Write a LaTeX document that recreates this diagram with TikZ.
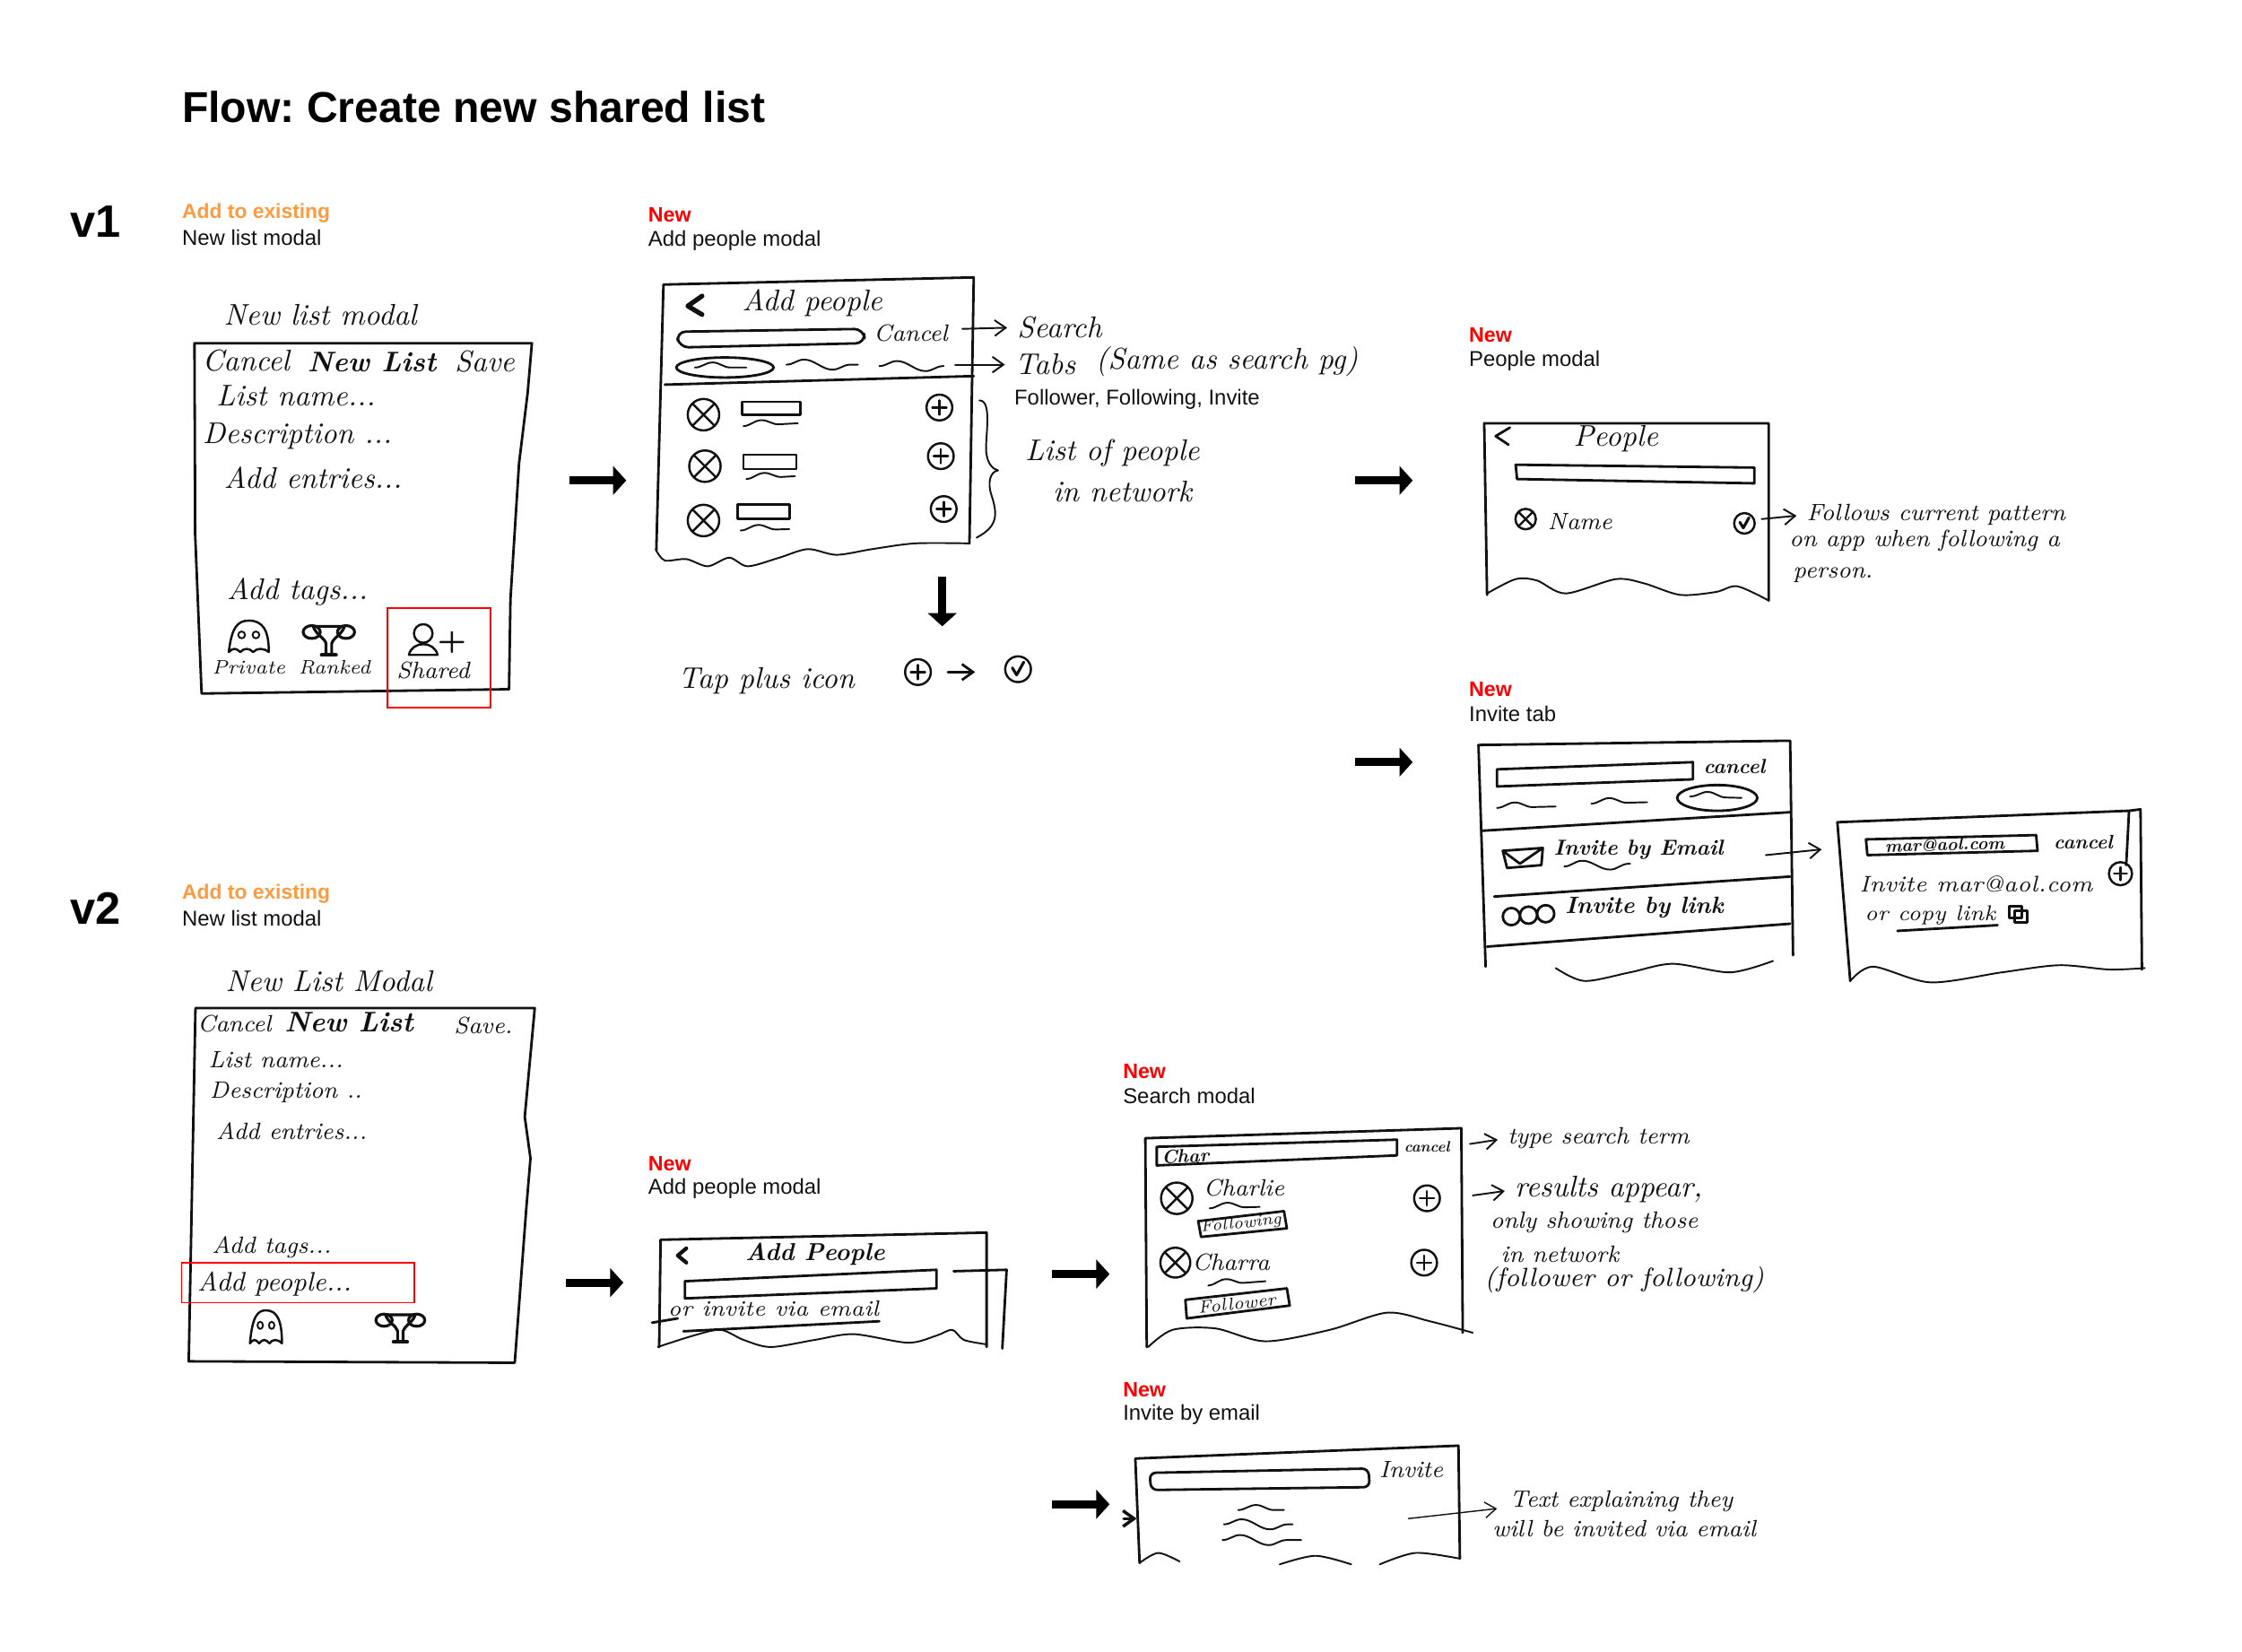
\documentclass[tikz,border=0pt]{standalone}
\usepackage{fontspec}
\setsansfont{Liberation Sans}
\usepackage{xcolor}
\usetikzlibrary{arrows.meta, decorations.pathmorphing}
\definecolor{addtag}{HTML}{FF9A3C}
\definecolor{newtag}{HTML}{FF0000}
\definecolor{inkline}{HTML}{111111}
\begin{document}
\begin{tikzpicture}[
  x=0.015944cm, y=-0.015944cm,
  ink/.style={draw=inkline, line width=0.55pt, line join=round, line cap=round},
  inkb/.style={ink, line width=0.8pt},
  scrib/.style={ink, decorate, decoration={snake, amplitude=1.6, segment length=18}},
  hand/.style={font=\rmfamily\itshape\fontsize{9.5}{10}\selectfont, text=inkline, inner sep=0pt},
  handb/.style={hand, font=\rmfamily\itshape\bfseries\fontsize{9}{10}\selectfont},
  handsm/.style={hand, font=\rmfamily\itshape\fontsize{7.5}{8}\selectfont},
  handxs/.style={hand, font=\rmfamily\itshape\fontsize{5.6}{6}\selectfont},
  headline/.style={font=\sffamily\bfseries\fontsize{13.7}{16}\selectfont, anchor=west, inner sep=0pt},
  version/.style={font=\sffamily\bfseries\fontsize{14.4}{16}\selectfont, anchor=west, inner sep=0pt},
  tagadd/.style={font=\sffamily\bfseries\fontsize{6.5}{8}\selectfont, text=addtag, anchor=west, inner sep=0pt, yshift=-0.5pt},
  tagnew/.style={font=\sffamily\bfseries\fontsize{6.6}{8}\selectfont, text=newtag, anchor=west, inner sep=0pt, yshift=-0.5pt},
  screen/.style={font=\sffamily\fontsize{6.8}{8}\selectfont, text=inkline, anchor=west, inner sep=0pt, yshift=-0.5pt},
  flowarr/.style={-{Triangle[length=4.2pt, width=9pt]}, line width=2.6pt, black},
  notearr/.style={-{Straight Barb[length=3.5pt, width=5pt]}, ink},
  notegap/.style={notearr, shorten >=3pt},
  redbox/.style={draw=newtag, line width=0.55pt},
  pics/xface/.style={code={
    \draw[ink, line width=0.7pt] (0,0) circle[radius=11];
    \draw[ink, line width=0.7pt] (-7.5,-7.5) -- (7.5,7.5) (7.5,-7.5) -- (-7.5,7.5);}},
  pics/plusdot/.style={code={
    \draw[ink, line width=0.7pt] (0,0) circle[radius=9];
    \draw[ink, line width=0.7pt] (-5,0) -- (5,0) (0,-5) -- (0,5);}},
  pics/checkdot/.style={code={
    \draw[ink, line width=0.7pt] (0,0) circle[radius=9];
    \draw[ink, line width=0.9pt] (-4,-1) -- (-1,4) -- (4,-5);}},
  pics/ghost/.style={code={
    \draw[ink, line width=0.7pt] (-14,9) .. controls (-12,-8) and (-8,-13) .. (0,-13)
      .. controls (10,-13) and (14,-6) .. (14,9) .. controls (10,6) and (6,6) .. (3,9)
      .. controls (0,6) and (-3,6) .. (-6,9) .. controls (-9,6) and (-11,6) .. (-14,9);
    \draw[ink] (-5,-3) circle[radius=2.4] (5,-3) circle[radius=2.4];}},
  pics/trophy/.style={code={
    \draw[ink, line width=0.9pt] (-11,-9) -- (11,-9) .. controls (9,-3) and (3,-1) .. (2,3) -- (2,11)
      -- (-2,11) -- (-2,3) .. controls (-3,-1) and (-9,-3) .. (-11,-9);
    \draw[ink, line width=0.9pt] (-12,-5) ellipse[x radius=6, y radius=4.5]
      (12,-5) ellipse[x radius=6, y radius=4.5];
    \draw[ink, line width=1.2pt] (-5,11) -- (5,11);}}
]
  \useasboundingbox (0,0) rectangle (1568,1154.7);

  \node[headline] (title) at (127,75) {\frenchspacing Flow: Create new shared list};
  \node[version] (vone) at (49,155) {v1};
  \node[version] (vtwo) at (49,635) {v2};

  \node[tagadd] (tagA) at (127,148) {Add to existing};
  \node[screen] (capA) at (127,165) {New list modal};
  \node[tagnew] (tagB) at (453,149) {New};
  \node[screen] (capB) at (453,167) {Add people modal};
  \node[tagnew] (tagC) at (1027,233) {New};
  \node[screen] (capC) at (1027,251) {People modal};
  \node[tagnew] (tagD) at (1027,481) {New};
  \node[screen] (capD) at (1027,498) {Invite tab};
  \node[tagadd] (tagE) at (127,624) {Add to existing};
  \node[screen] (capE) at (127,641) {New list modal};
  \node[tagnew] (tagF) at (453,813) {New};
  \node[screen] (capF) at (453,830) {Add people modal};
  \node[tagnew] (tagG) at (785,748) {New};
  \node[screen] (capG) at (785,765) {Search modal};
  \node[tagnew] (tagH) at (785,971) {New};
  \node[screen] (capH) at (785,988) {Invite by email};
  \node[screen] (tabnames) at (709,278) {Follower, Following, Invite};

  \coordinate (fa1) at (398,336);  \coordinate (fa2) at (438,336);
  \coordinate (fb1) at (948,336);  \coordinate (fb2) at (988,336);
  \coordinate (fc1) at (948,533);  \coordinate (fc2) at (988,533);
  \coordinate (fd1) at (396,897);  \coordinate (fd2) at (436,897);
  \coordinate (fe1) at (736,891);  \coordinate (fe2) at (776,891);
  \coordinate (ff1) at (736,1052); \coordinate (ff2) at (776,1052);
  \coordinate (fg1) at (659,403);  \coordinate (fg2) at (659,438);
  \draw[flowarr] (fa1) -- (fa2);
  \draw[flowarr] (fb1) -- (fb2);
  \draw[flowarr] (fc1) -- (fc2);
  \draw[flowarr] (fd1) -- (fd2);
  \draw[flowarr] (fe1) -- (fe2);
  \draw[flowarr] (ff1) -- (ff2);
  \draw[flowarr] (fg1) -- (fg2);

  \draw[inkb] (136,240) -- (372,240) -- (369,275) -- (363,324) -- (357,419) -- (356,482) -- (141,485) -- (136.5,374) -- cycle;
  \node[hand] (a0) at (224,220) {New list modal};
  \node[hand] (a1) at (172,252) {Cancel};
  \node[handb] (a2) at (260,253) {New List};
  \node[hand] (a3) at (339,253) {Save};
  \node[hand] (a4) at (207,277) {List name...};
  \node[hand] (a5) at (208,305) {Description ...};
  \node[hand] (a6) at (219,334) {Add entries...};
  \node[hand] (a7) at (208,414) {Add tags...};
  \pic at (174,447) {ghost};
  \pic at (230,447) {trophy};
  \node[handxs, font=\rmfamily\itshape\fontsize{6.2}{7}\selectfont] (a8) at (174,467) {Private};
  \node[handxs, font=\rmfamily\itshape\fontsize{6.2}{7}\selectfont] (a9) at (234,467) {Ranked};
  \draw[ink, line width=0.7pt] (296,443) circle[radius=6.5]
    (286,458) .. controls (288,448) and (304,448) .. (306,458) -- cycle
    (308,449) -- (324,449) (316,442) -- (316,456);
  \node[handsm] (a10) at (303,469) {Shared};
  \draw[redbox] (271,425) rectangle (343,495);

  \draw[inkb] (459,385) -- (464,199) -- (681,194) -- (678,380);
  \draw[ink] plot[smooth] coordinates {(459,385) (465,392) (480,391) (495,396) (510,390) (523,396) (545,390) (565,384) (585,388) (610,384) (640,380) (678,380)};
  \draw[ink, line width=1.5pt] (491,207) -- (481,214) -- (491,220);
  \node[hand] (b0) at (568,212) {Add people};
  \draw[inkb, rounded corners=3] (473,232) -- (604,230) -- (605,240) -- (475,243) -- cycle;
  \node[handsm] (b1) at (637,233) {Cancel};
  \draw[inkb] (507,257) ellipse[x radius=34, y radius=7];
  \draw[scrib] (486,257) -- (522,257);
  \draw[scrib] (550,255) -- (600,255);
  \draw[scrib] (615,256) -- (660,256);
  \draw[inkb] (465,269) -- (681,263);
  \pic at (492,290) {xface};
  \pic at (493,326) {xface};
  \pic at (492,364) {xface};
  \draw[inkb] (519,281) rectangle (560,290);
  \draw[scrib] (520,298) -- (558,296);
  \draw[inkb] (520,318) rectangle (557,328);
  \draw[scrib] (522,335) -- (556,333);
  \draw[inkb] (516,353) rectangle (552,363);
  \draw[scrib] (518,371) -- (552,370);
  \pic at (657,285) {plusdot};
  \pic at (658,319) {plusdot};
  \pic at (660,356) {plusdot};
  \draw[ink] (685,280) .. controls (695,280) and (688,310) .. (690,318)
    .. controls (691,324) and (694,328) .. (698,329) .. controls (692,330) and (691,338) .. (693,345)
    .. controls (698,360) and (698,368) .. (683,376);
  \node[hand] (b2) at (741,229) {Search};
  \coordinate (b2s) at (673,230);
  \draw[notegap] (b2s) -- (b2.west);
  \node[hand] (b3) at (731,255) {Tabs};
  \coordinate (b3s) at (668,255);
  \draw[notegap] (b3s) -- (b3.west);
  \node[hand] (b4) at (858,253) {(Same as search pg)};
  \node[hand] (b5) at (778,317) {List of people};
  \node[hand] (b6) at (785,344) {in network};
  \node[hand] (b7) at (536,476) {Tap plus icon};
  \pic at (642,470) {plusdot};
  \coordinate (b8s) at (663,470);
  \coordinate (b8e) at (682,470);
  \draw[notearr, line width=0.8pt] (b8s) -- (b8e);
  \pic at (712,468) {checkdot};

  \draw[inkb] (1040,416) -- (1038,296) -- (1237,296) -- (1237,420);
  \draw[ink] plot[smooth] coordinates {(1040,415) (1060,405) (1075,406) (1095,415) (1130,405) (1150,408) (1175,416) (1200,414) (1215,410) (1237,420)};
  \draw[inkb] (1056,299) -- (1046,305) -- (1055,311);
  \node[hand] (c0) at (1130,307) {People};
  \draw[inkb] (1060,325) -- (1227,327) -- (1227,338) -- (1061,335) -- cycle;
  \pic[scale=0.65] at (1067,363) {xface};
  \node[handsm] (c1) at (1105,365) {Name};
  \pic[scale=0.8] at (1220,366) {checkdot};
  \node[handsm] (c2) at (1354,360) {Follows current pattern};
  \node[handsm] (c3) at (1346,378) {on app when following a};
  \node[handsm] (c4) at (1282,402) {person.};
  \coordinate (c2s) at (1232,363);
  \draw[notegap] (c2s) -- (c2.west);

  \draw[inkb] (1039,676) -- (1034,521) -- (1252,518) -- (1254,668);
  \draw[inkb] (1047,538) -- (1184,533) -- (1184,545) -- (1047,550) -- cycle;
  \node[handb, font=\rmfamily\itshape\bfseries\fontsize{6.5}{7}\selectfont] (d0) at (1213,536) {cancel};
  \draw[scrib] (1047,565) -- (1088,564);
  \draw[scrib] (1113,562) -- (1152,561);
  \draw[inkb] (1201,558) ellipse[x radius=28, y radius=9];
  \draw[scrib] (1182,557) -- (1218,558);
  \draw[inkb] (1036,581) -- (1252,568);
  \draw[inkb] (1045,627) -- (1252,613);
  \draw[inkb] (1040,662) -- (1252,646);
  \draw[inkb] (1051,595) -- (1079,593) -- (1078,605) -- (1054,607) -- cycle (1051,595) -- (1063,604) -- (1079,593);
  \node[handsm, font=\rmfamily\itshape\bfseries\fontsize{6.9}{8}\selectfont] (d1) at (1146,594) {Invite by Email};
  \draw[scrib] (1094,606) -- (1140,604);
  \draw[inkb] (1057,641) circle[radius=6] (1069,640) circle[radius=6] (1081,639) circle[radius=6];
  \node[handsm, font=\rmfamily\itshape\bfseries\fontsize{7.5}{8}\selectfont] (d2) at (1150,635) {Invite by link};
  \draw[ink] plot[smooth] coordinates {(1088,677) (1108,686) (1140,680) (1170,674) (1210,680) (1240,672)};
  \coordinate (d3s) at (1235,598);
  \coordinate (d3e) at (1274,594);
  \draw[notearr] (d3s) -- (d3e);

  \draw[inkb] (1294,686) -- (1285,575) -- (1489,567) (1489,567) -- (1487,605) (1489,567) -- (1497,566) -- (1498,678);
  \draw[ink] plot[smooth] coordinates {(1294,686) (1310,676) (1350,687) (1400,680) (1440,675) (1475,678) (1500,677)};
  \draw[inkb] (1305,587) -- (1424,584) -- (1425,595) -- (1306,598) -- cycle;
  \node[handxs, rotate=1.5, font=\rmfamily\itshape\bfseries\fontsize{5.6}{7}\selectfont] (e0) at (1360,590.5) {mar@aol.com};
  \node[handb, font=\rmfamily\itshape\bfseries\fontsize{6.2}{7}\selectfont] (e1) at (1457,589) {cancel};
  \node[handsm, font=\rmfamily\itshape\fontsize{7.2}{8}\selectfont] (e2) at (1382,618) {Invite mar@aol.com};
  \pic[scale=0.9] at (1483,611) {plusdot};
  \node[handsm, font=\rmfamily\itshape\fontsize{6.8}{8}\selectfont] (e3) at (1350,640) {or copy link};
  \draw[inkb] (1327,651) -- (1397,647);
  \draw[inkb] (1405,634) rectangle (1414,642) (1409,637) rectangle (1418,645);

  \draw[inkb] (136.7,705) -- (374,705) -- (367,781) -- (371,810) -- (368,846) -- (360,953) -- (132,952) -- cycle;
  \node[hand] (f0) at (230,686) {New List Modal};
  \node[handsm] (f1) at (164,716) {Cancel};
  \node[handb] (f2) at (244,715) {New List};
  \node[handsm] (f3) at (338,717) {Save.};
  \node[handsm] (f4) at (193,741) {List name...};
  \node[handsm] (f5) at (200,764) {Description ..};
  \node[handsm] (f6) at (204,791) {Add entries...};
  \node[handsm] (f7) at (190,872) {Add tags...};
  \node[hand, font=\rmfamily\itshape\fontsize{8.5}{9}\selectfont] (f8) at (192,898) {Add people...};
  \draw[redbox] (127,883) rectangle (290,911);
  \pic[xscale=0.8, yscale=1.05] at (186,930) {ghost};
  \pic[scale=0.95] at (280,928) {trophy};

  \draw[inkb] (461,942) -- (462,867) -- (690,862) -- (690,942);
  \draw[ink] plot[smooth] coordinates {(460,942) (485,934) (504,930) (520,937) (539,942) (570,937) (597,933) (635,939) (655,934) (666,930) (674,937) (689,940)};
  \draw[ink, line width=1.2pt] (480,873) -- (474,878) -- (480,883);
  \node[hand, font=\rmfamily\itshape\bfseries\fontsize{7.8}{9}\selectfont] (g0) at (570,877) {Add People};
  \draw[inkb] (479,896) -- (655,888) -- (655,901) -- (479,908) -- cycle;
  \node[handsm, font=\rmfamily\itshape\fontsize{7}{8}\selectfont] (g1) at (541,915) {or invite via email};
  \draw[inkb] (478,931) -- (615,924);
  \draw[inkb] (667,889) -- (704,888) -- (701,943) (456,925) -- (474,922);

  \draw[inkb] (802,942) -- (801,796) -- (1022,789) -- (1023,932);
  \draw[ink] plot[smooth] coordinates {(803,942) (820,930) (850,929) (885,938) (930,930) (970,918) (1000,924) (1030,932)};
  \draw[inkb] (809,802) -- (977,797) -- (977,808) -- (809,815) -- cycle;
  \node[handsm, rotate=2, font=\rmfamily\itshape\bfseries\fontsize{6}{7}\selectfont] (h0) at (829,808.5) {Char};
  \node[handxs, font=\rmfamily\itshape\bfseries\fontsize{4.8}{5}\selectfont] (h1) at (998,802) {cancel};
  \pic at (823,838) {xface};
  \pic[scale=0.95] at (822,883) {xface};
  \node[handsm] (h2) at (870,831) {Charlie};
  \draw[scrib] (846,845) -- (881,844);
  \draw[inkb] (838,854) -- (898,847) -- (900,859) -- (840,865) -- cycle;
  \node[handxs, rotate=6, font=\rmfamily\itshape\fontsize{5.2}{6}\selectfont] (h3) at (868,856) {Following};
  \node[handsm] (h4) at (861,883) {Charra};
  \draw[scrib] (845,899) -- (885,896);
  \draw[inkb] (829,909) -- (900,901) -- (902,913) -- (830,922) -- cycle;
  \node[handxs, rotate=6, font=\rmfamily\itshape\fontsize{5.6}{7}\selectfont] (h5) at (865,911.5) {Follower};
  \pic at (998,838) {plusdot};
  \pic at (996,883) {plusdot};
  \node[handsm] (h6) at (1118,796) {type search term};
  \coordinate (h6s) at (1028,800);
  \draw[notegap] (h6s) -- (h6.west);
  \node[hand] (h7) at (1125,832) {results appear,};
  \coordinate (h7s) at (1030,836);
  \draw[notegap] (h7s) -- (h7.west);
  \node[handsm] (h8) at (1115,855) {only showing those};
  \node[handsm] (h9) at (1091,877) {in network};
  \node[handsm, font=\rmfamily\itshape\fontsize{8.4}{9}\selectfont] (h10) at (1136,895) {(follower or following)};

  \draw[inkb] (797,1093) -- (794,1020) -- (1020,1011) -- (1021,1090);
  \draw[ink] plot[smooth] coordinates {(797,1093) (810,1086) (825,1092)};
  \draw[ink] plot[smooth] coordinates {(895,1094) (920,1088) (945,1094)};
  \draw[ink] plot[smooth] coordinates {(965,1094) (990,1086) (1021,1090)};
  \draw[inkb, rounded corners=2] (804,1030) -- (957,1027) -- (958,1040) -- (805,1042) -- cycle;
  \node[handsm] (i0) at (987,1028) {Invite};
  \draw[scrib] (866,1056) -- (898,1056);
  \draw[scrib] (856,1066) -- (904,1066);
  \draw[scrib] (855,1077) -- (910,1077);
  \coordinate (i1s) at (786,1062);
  \coordinate (i1e) at (795,1062);
  \draw[notearr, line width=1pt] (i1s) -- (i1e);
  \node[handsm] (i2) at (1134,1050) {Text explaining they};
  \node[handsm] (i3) at (1136,1069) {will be invited via email};
  \coordinate (i2s) at (985,1062);
  \coordinate (i2e) at (1047,1055);
  \draw[notearr, line width=0.4pt] (i2s) -- (i2e);
\end{tikzpicture}
\end{document}
